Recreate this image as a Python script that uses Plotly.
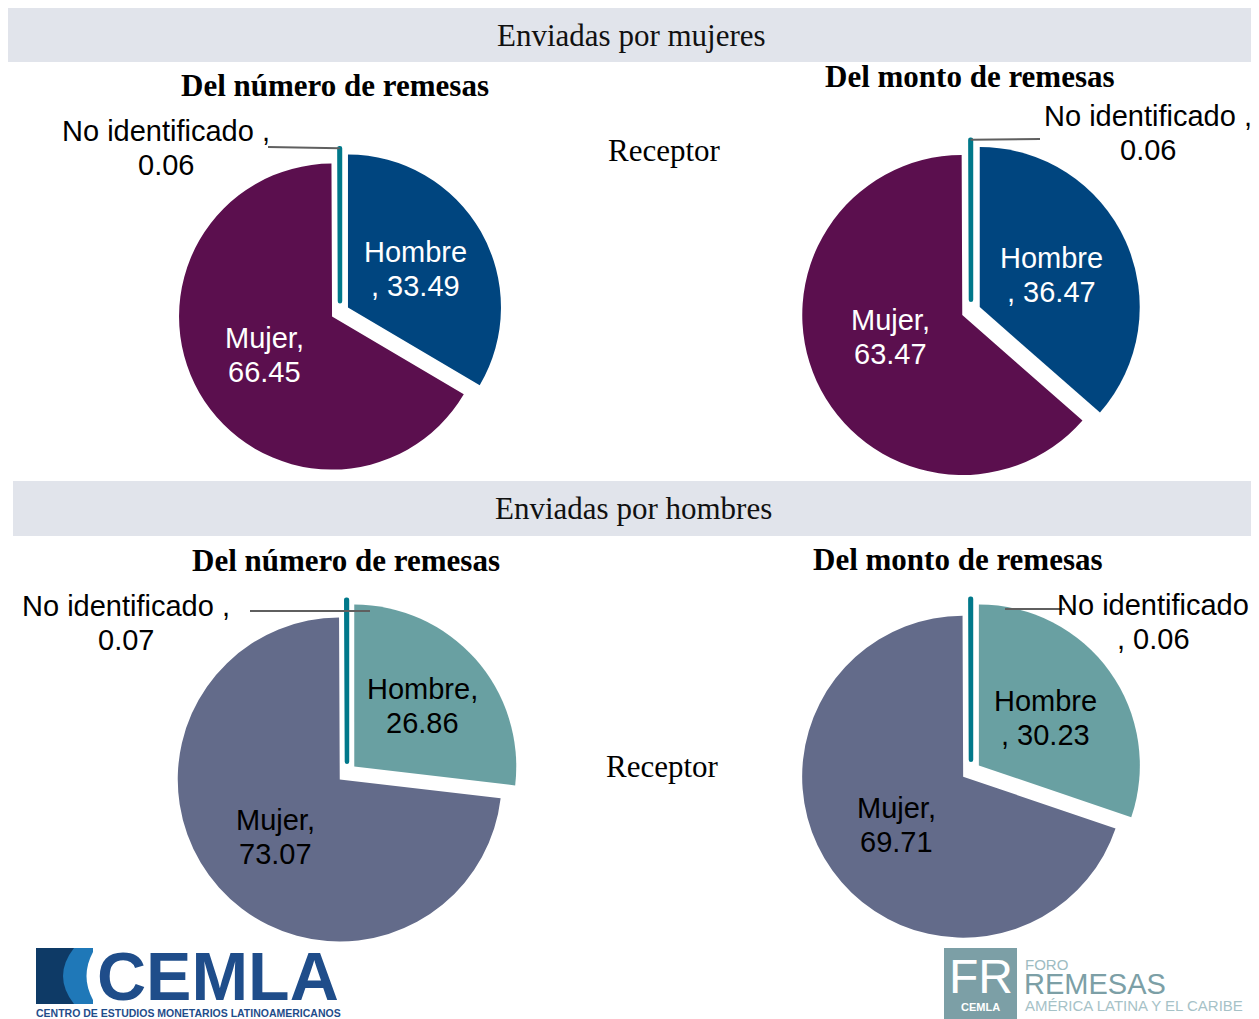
import math
import plotly.graph_objects as go

# reference picture size and the page's default body margin
W, H = 1259, 1019
OFF = 8
FW, FH = W - OFF, H - OFF

# ---------------- data ----------------
categories = ["Hombre", "Mujer", "No identificado"]
mujeres_numero = [33.49, 66.45, 0.06]
mujeres_monto = [36.47, 63.47, 0.06]
hombres_numero = [26.86, 73.07, 0.07]
hombres_monto = [30.23, 69.71, 0.06]

band_titles = ["Enviadas por mujeres", "Enviadas por hombres"]
panel_titles = ["Del número de remesas", "Del monto de remesas"]
center_label = "Receptor"

# ---------------- styles ----------------
colors_top = ["#00457f", "#5b0f4e", "#00788a"]
colors_bottom = ["#69a0a2", "#636b8a", "#00788a"]
pulls = [0.06, 0.06, 0.07]
SERIF = "Liberation Serif"
SANS = "Liberation Sans"
LABEL_SIZE = 29
LINE_GAP = 34


def px_x(x):
    return (x - OFF) / FW


def px_y(y):
    return 1 - (y - OFF) / FH


def fmt(cat, v, style):
    if style == "a":
        return [f"{cat},", f"{v:.2f}"]
    return [cat.strip(), f", {v:.2f}"]


def add_lines(annotations, lines, x, y, color, anchor="center"):
    n = len(lines)
    for j, t in enumerate(lines):
        yy = y + (j - (n - 1) / 2) * LINE_GAP
        annotations.append(dict(
            x=px_x(x), y=px_y(yy), xref="paper", yref="paper",
            text=t, showarrow=False,
            font=dict(family=SANS, size=LABEL_SIZE, color=color),
            xanchor=anchor, yanchor="middle"))


pies = [
    dict(values=mujeres_numero, colors=colors_top, c=(340, 312), r=153,
         styles=["b", "a", "a"], ni_cat="No identificado ", txtcol="white",
         ni_pos=(166, 148), lead=((268, 147), None), k=(0.57, 0.57), dy=(0, 0)),
    dict(values=mujeres_monto, colors=colors_top, c=(971, 311), r=160,
         styles=["b", "a", "a"], ni_cat="No identificado ", txtcol="white",
         ni_pos=(1148, 133), lead=((1040, 139), None), k=(0.55, 0.55), dy=(0, -10)),
    dict(values=hombres_numero, colors=colors_bottom, c=(347, 773), r=162,
         styles=["a", "a", "a"], ni_cat="No identificado ", txtcol="black",
         ni_pos=(126, 623), lead=((250, 611), (370, 611)), k=(0.62, 0.59), dy=(0, 0)),
    dict(values=hombres_monto, colors=colors_bottom, c=(971, 771), r=161,
         styles=["b", "a", "b"], ni_cat="No identificado", txtcol="black",
         ni_pos=(1153, 622), lead=((1005, 609), (1065, 609)), k=(0.57, 0.57), dy=(0, 0)),
]

fig = go.Figure()
annotations = []
shapes = []

maxpull = max(pulls)
for p in pies:
    cx, cy = p["c"]
    r = p["r"]
    half = r * (1 + maxpull)
    fig.add_trace(go.Pie(
        labels=categories,
        values=p["values"],
        sort=False,
        direction="clockwise",
        rotation=0,
        pull=pulls,
        marker=dict(colors=p["colors"],
                    line=dict(color=p["colors"], width=[0, 0, 4.5])),
        textinfo="none",
        hoverinfo="label+value",
        showlegend=False,
        domain=dict(x=[px_x(cx - half), px_x(cx + half)],
                    y=[px_y(cy + half), px_y(cy - half)]),
    ))
    total = sum(p["values"])
    cum = 0.0
    for i, v in enumerate(p["values"]):
        a0 = cum / total * 2 * math.pi
        cum += v
        a1 = cum / total * 2 * math.pi
        mid = (a0 + a1) / 2
        if i < 2:
            k = p["k"][i]
            lx = cx + k * r * math.sin(mid)
            ly = cy - k * r * math.cos(mid) + p["dy"][i]
            add_lines(annotations, fmt(categories[i], v, p["styles"][i]), lx, ly, p["txtcol"])
        else:
            tipx = cx + r * (1 + pulls[i]) * math.sin(mid)
            tipy = cy - r * (1 + pulls[i]) * math.cos(mid)
            nx, ny = p["ni_pos"]
            add_lines(annotations, fmt(p["ni_cat"], v, p["styles"][i]), nx, ny, "black")
            (sx, sy), end = p["lead"]
            ex, ey = end if end is not None else (tipx, tipy)
            shapes.append(dict(type="line", xref="paper", yref="paper",
                               x0=px_x(sx), y0=px_y(sy), x1=px_x(ex), y1=px_y(ey),
                               line=dict(color="#5f5f5f", width=2)))

# header bands
for (x0, y0, x1, y1), t, (tx, ty) in [((8, 8, 1252, 62), band_titles[0], (631, 35)),
                                       ((13, 481, 1252, 536), band_titles[1], (633, 508))]:
    shapes.append(dict(type="rect", xref="paper", yref="paper", layer="below",
                       x0=px_x(x0), y0=px_y(y1), x1=px_x(x1), y1=px_y(y0),
                       fillcolor="#e1e4eb", line=dict(width=0)))
    annotations.append(dict(x=px_x(tx), y=px_y(ty), xref="paper", yref="paper",
                            text=t, showarrow=False,
                            font=dict(family=SERIF, size=31, color="#111111"),
                            xanchor="center", yanchor="middle"))

# panel titles
for t, (tx, ty) in [(panel_titles[0], (335, 85)), (panel_titles[1], (970, 76)),
                    (panel_titles[0], (346, 560)), (panel_titles[1], (958, 559))]:
    annotations.append(dict(x=px_x(tx), y=px_y(ty), xref="paper", yref="paper",
                            text=f"<b>{t}</b>", showarrow=False,
                            font=dict(family=SERIF, size=31, color="black"),
                            xanchor="center", yanchor="middle"))

for (tx, ty) in [(664, 150), (662, 766)]:
    annotations.append(dict(x=px_x(tx), y=px_y(ty), xref="paper", yref="paper",
                            text=center_label, showarrow=False,
                            font=dict(family=SERIF, size=31, color="black"),
                            xanchor="center", yanchor="middle"))

# ---------------- logos ----------------
# CEMLA
shapes.append(dict(type="rect", xref="paper", yref="paper",
                   x0=px_x(36), x1=px_x(74), y0=px_y(1004), y1=px_y(948),
                   fillcolor="#0e3a66", line=dict(width=0)))
path = (f"M {px_x(93)},{px_y(948)} L {px_x(74)},{px_y(948)} "
        f"Q {px_x(52)},{px_y(976)} {px_x(74)},{px_y(1004)} "
        f"L {px_x(93)},{px_y(1004)} Z")
shapes.append(dict(type="path", xref="paper", yref="paper", path=path,
                   fillcolor="#1f78b8", line=dict(width=0)))
path2 = (f"M {px_x(93)},{px_y(952)} Q {px_x(80)},{px_y(976)} {px_x(93)},{px_y(1000)} "
         f"L {px_x(96)},{px_y(1000)} L {px_x(96)},{px_y(952)} Z")
shapes.append(dict(type="path", xref="paper", yref="paper", path=path2,
                   fillcolor="white", line=dict(width=0)))
annotations.append(dict(x=px_x(95), y=px_y(976), xref="paper", yref="paper",
                        text="<b>CEMLA</b>", showarrow=False,
                        font=dict(family=SANS, size=68, color="#1f4d8a"),
                        xanchor="left", yanchor="middle"))
annotations.append(dict(x=px_x(188), y=px_y(1013), xref="paper", yref="paper",
                        text="<b>CENTRO DE ESTUDIOS MONETARIOS LATINOAMERICANOS</b>",
                        showarrow=False,
                        font=dict(family=SANS, size=10.5, color="#1f4d8a"),
                        xanchor="center", yanchor="middle"))
# Foro Remesas
shapes.append(dict(type="rect", xref="paper", yref="paper",
                   x0=px_x(944), x1=px_x(1017), y0=px_y(1019), y1=px_y(948),
                   fillcolor="#7c9fa6", line=dict(width=0)))
annotations.append(dict(x=px_x(981), y=px_y(976), xref="paper", yref="paper",
                        text="FR", showarrow=False,
                        font=dict(family=SANS, size=48, color="white"),
                        xanchor="center", yanchor="middle"))
annotations.append(dict(x=px_x(980), y=px_y(1007), xref="paper", yref="paper",
                        text="<b>CEMLA</b>", showarrow=False,
                        font=dict(family=SANS, size=11, color="white"),
                        xanchor="center", yanchor="middle"))
annotations.append(dict(x=px_x(1023), y=px_y(964), xref="paper", yref="paper",
                        text="FORO", showarrow=False,
                        font=dict(family=SANS, size=15, color="#9dbcc2"),
                        xanchor="left", yanchor="middle"))
annotations.append(dict(x=px_x(1022), y=px_y(984), xref="paper", yref="paper",
                        text="REMESAS", showarrow=False,
                        font=dict(family=SANS, size=29, color="#7c9fa6"),
                        xanchor="left", yanchor="middle"))
annotations.append(dict(x=px_x(1023), y=px_y(1005), xref="paper", yref="paper",
                        text="AMÉRICA LATINA Y EL CARIBE", showarrow=False,
                        font=dict(family=SANS, size=15, color="#a6c2c7"),
                        xanchor="left", yanchor="middle"))

fig.update_layout(
    width=FW, height=FH,
    margin=dict(l=0, r=0, t=0, b=0),
    paper_bgcolor="white", plot_bgcolor="white",
    annotations=annotations, shapes=shapes,
    showlegend=False,
)

fig.write_html("out.html")
